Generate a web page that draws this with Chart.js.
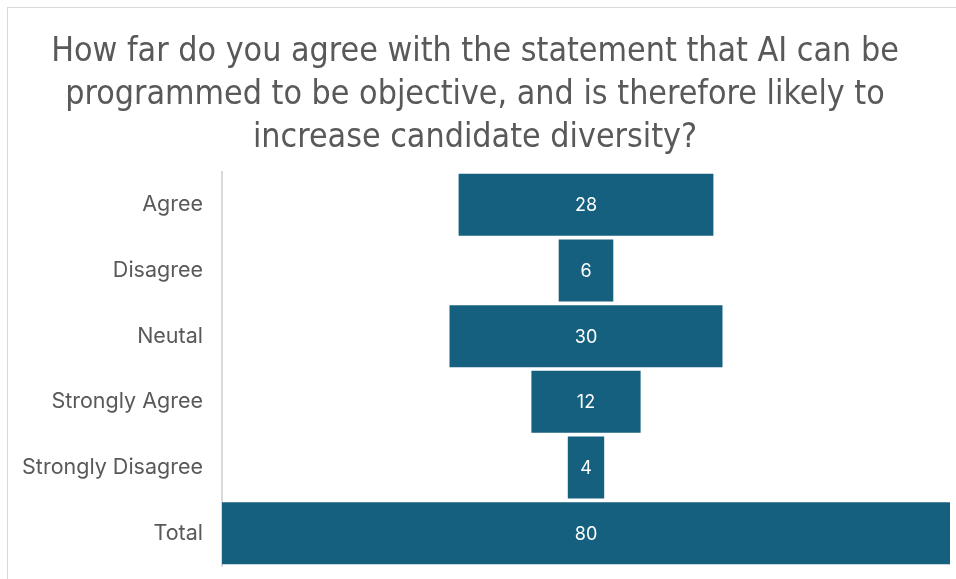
<!DOCTYPE html>
<html>
<head>
<meta charset="utf-8">
<script src="https://cdn.jsdelivr.net/npm/chart.js@4/dist/chart.umd.min.js"></script>
<style>
  html, body { margin: 0; padding: 0; background: #fff; overflow: hidden; }
  #wrap { position: absolute; left: 0; top: 0; width: 956px; height: 579px; }
  #frame { position: absolute; left: 7px; top: 7px; width: 960px; height: 590px; border: 1px solid #d9d9d9; box-sizing: border-box; pointer-events: none; }
</style>
</head>
<body>
<div id="wrap">
  <canvas id="c" width="956" height="579"></canvas>
  <div id="frame"></div>
</div>
<script>
const titleLines = [
  "How far do you agree with the statement that AI can be",
  "programmed to be objective, and is therefore likely to",
  "increase candidate diversity?"
];
const categories = ["Agree", "Disagree", "Neutal", "Strongly Agree", "Strongly Disagree", "Total"];
const values = [28, 6, 30, 12, 4, 80];

const barColor = "#16607f";

const funnelData = values.map(v => [-v / 2, v / 2]);

const valueLabels = {
  id: "valueLabels",
  afterDatasetsDraw(chart) {
    const ctx = chart.ctx;
    const meta = chart.getDatasetMeta(0);
    ctx.save();
    ctx.fillStyle = "#ffffff";
    ctx.font = "18px Inter, 'Open Sans', sans-serif";
    ctx.textAlign = "center";
    ctx.textBaseline = "middle";
    meta.data.forEach((bar, i) => {
      const xs = chart.scales.x;
      const cx = xs.getPixelForValue(0);
      ctx.fillText(String(values[i]), cx, bar.y + 1);
    });
    ctx.restore();
  }
};

new Chart(document.getElementById("c"), {
  type: "bar",
  data: {
    labels: categories,
    datasets: [{
      data: funnelData,
      backgroundColor: barColor,
      borderWidth: 0,
      borderSkipped: false,
      barPercentage: 0.945,
      categoryPercentage: 1.0
    }]
  },
  options: {
    indexAxis: "y",
    responsive: false,
    animation: false,
    devicePixelRatio: 1,
    layout: { padding: { left: 0, right: 6, top: 31, bottom: 13 } },
    plugins: {
      legend: { display: false },
      tooltip: { enabled: false },
      title: {
        display: true,
        text: titleLines,
        color: "#595959",
        font: { family: "'DejaVu Sans Condensed', 'Open Sans', sans-serif", size: 33.7, weight: "normal", lineHeight: 1.276 },
        padding: { top: 0, bottom: 12 }
      }
    },
    scales: {
      x: {
        display: false,
        min: -40,
        max: 40
      },
      y: {
        grid: { display: false },
        border: { display: true, color: "#d9d9d9", width: 2 },
        ticks: {
          color: "#595959",
          font: { family: "Inter, 'Open Sans', sans-serif", size: 21.5 },
          padding: 11
        },
        afterFit(scale) { scale.width = 222; scale.paddingTop = 0; scale.paddingBottom = 0; }
      }
    }
  },
  plugins: [valueLabels]
});
</script>
</body>
</html>
